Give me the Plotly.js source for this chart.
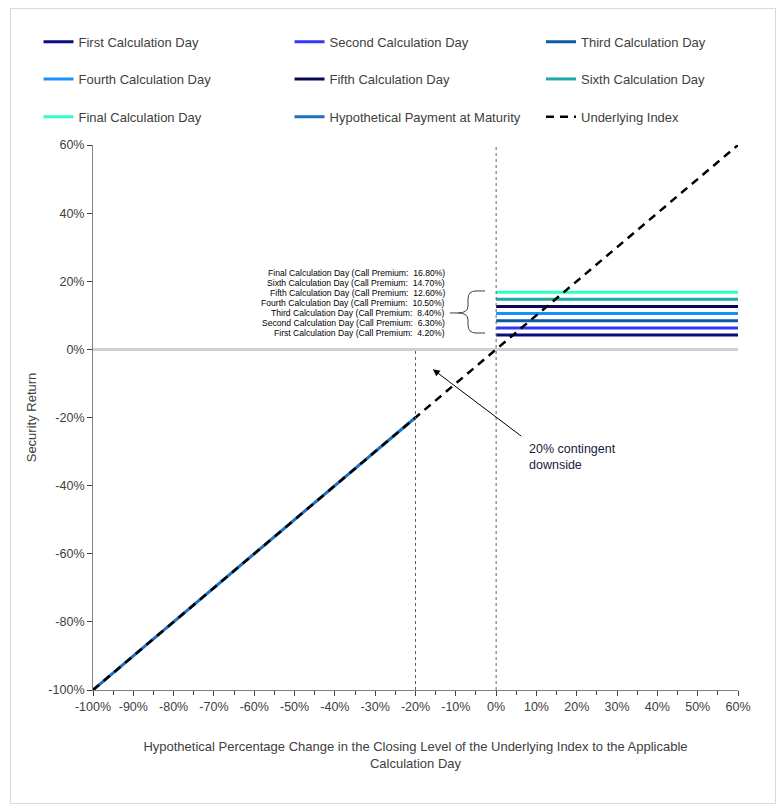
<!DOCTYPE html>
<html>
<head>
<meta charset="utf-8">
<script src="https://cdn.plot.ly/plotly-3.0.1.min.js"></script>
<style>
body { margin: 0; background: #fff; }
#chart { position: absolute; left: 0; top: 0; width: 780px; height: 806px; }
#frame { position: absolute; left: 10px; top: 8px; width: 764px; height: 794px; border: 1px solid #d9d9d9; pointer-events: none; }
</style>
</head>
<body>
<div id="chart"></div>
<div id="frame"></div>
<script>
// calculation days and their call premiums (%)
const dayNames = ["First", "Second", "Third", "Fourth", "Fifth", "Sixth", "Final"];
const callPremiums = [4.2, 6.3, 8.4, 10.5, 12.6, 14.7, 16.8];
const dayColors = ["#0b0b80", "#3535f5", "#0d5aa0", "#1a90ff", "#0a0a50", "#1fa8a8", "#2effc6"];
const premiumX = [0, 60];

// payment below the contingent downside and the underlying index
const paymentX = [-100, -20];
const paymentY = [-100, -20];
const indexX = [-100, 60];
const indexY = [-100, 60];

const barrier = -20;
const xTicks = [-100, -90, -80, -70, -60, -50, -40, -30, -20, -10, 0, 10, 20, 30, 40, 50, 60];
const yTicks = [-100, -80, -60, -40, -20, 0, 20, 40, 60];

const fontFam = "Liberation Sans, Arial, sans-serif";
const grey = "#404040";

function pct(v) { return v + "%"; }
function legendId(n) { return n === 0 ? "legend" : "legend" + (n + 1); }

var traces = [];
for (var i = 0; i < dayNames.length; i++) {
  traces.push({
    x: premiumX,
    y: [callPremiums[i], callPremiums[i]],
    mode: "lines",
    name: dayNames[i] + " Calculation Day",
    line: {color: dayColors[i], width: 3}
  });
}
traces.push({
  x: paymentX, y: paymentY, mode: "lines",
  name: "Hypothetical Payment at Maturity",
  line: {color: "#1f70c0", width: 3}
});
traces.push({
  x: indexX, y: indexY, mode: "lines",
  name: "Underlying Index",
  line: {color: "#000", width: 2.5, dash: "8px,6px"}
});

// bracket labels, one per calculation day, stacked top (final) to bottom (first)
var annotations = [];
var labelTop = 22.3, labelStep = 2.9;
for (var j = dayNames.length - 1, k = 0; j >= 0; j--, k++) {
  annotations.push({
    x: -12.2, y: labelTop - k * labelStep, xref: "x", yref: "y",
    xanchor: "right", yanchor: "middle", showarrow: false,
    text: dayNames[j] + " Calculation Day (Call Premium:  " + callPremiums[j].toFixed(2) + "%)",
    font: {size: 8.6, color: "#000"}
  });
}
annotations.push({x: -15.7, y: -5.85, ax: 6.6, ay: -25.8, xref: "x", yref: "y", axref: "x", ayref: "y",
  text: "", showarrow: true, arrowhead: 2, arrowsize: 1.4, arrowwidth: 1, arrowcolor: "#000"});
annotations.push({x: 7.7, y: -26.6, xref: "x", yref: "y", xanchor: "left", yanchor: "top",
  align: "left", showarrow: false, text: "20% contingent<br>downside",
  font: {size: 12.5, color: "#1a1a40"}});

// curly bracket joining the labels
var bracePath =
  "M -2.75,17.15 L -4.98,17.15 Q -6.97,17.15 -6.97,14.8 L -6.97,12.74 " +
  "Q -6.97,10.69 -9.45,10.69 L -11.44,10.69 M -9.45,10.69 " +
  "Q -6.97,10.69 -6.97,8.63 L -6.97,7.16 Q -6.97,4.81 -4.98,4.81 L -2.75,4.81";

var layout = {
  width: 780, height: 806,
  margin: {l: 93, r: 42, t: 145, b: 116},
  paper_bgcolor: "#fff", plot_bgcolor: "#fff",
  font: {family: fontFam, size: 12.5, color: grey},
  showlegend: true,
  xaxis: {
    range: [-100, 60], tickvals: xTicks, ticktext: xTicks.map(pct),
    showgrid: false, zeroline: false,
    showline: true, linecolor: "#808080", linewidth: 1,
    ticks: "outside", ticklen: 5, tickcolor: "#404040",
    minor: {dtick: 5, tick0: 0, ticks: "outside", ticklen: 4, tickcolor: "#404040"},
    tickfont: {size: 12.5, color: grey},
    title: {
      text: "Hypothetical Percentage Change in the Closing Level of the Underlying Index to the Applicable<br>Calculation Day",
      font: {size: 13, color: grey}, standoff: 28
    }
  },
  yaxis: {
    range: [-100, 60], tickvals: yTicks, ticktext: yTicks.map(pct),
    showgrid: false,
    zeroline: true, zerolinecolor: "#cfcfd6", zerolinewidth: 2.5,
    showline: true, linecolor: "#808080", linewidth: 1,
    ticks: "outside", ticklen: 5, tickcolor: "#404040",
    tickfont: {size: 12.5, color: grey},
    title: {text: "Security Return", font: {size: 13, color: grey}, standoff: 8}
  },
  shapes: [
    {type: "line", xref: "x", yref: "paper", x0: 0, x1: 0, y0: 0, y1: 1,
     line: {color: "#606060", width: 1, dash: "dot"}},
    {type: "line", xref: "x", yref: "y", x0: barrier, x1: barrier, y0: -100, y1: 0,
     line: {color: "#606060", width: 1, dash: "dot"}},
    {type: "path", xref: "x", yref: "y", path: bracePath,
     line: {color: "#404040", width: 1}}
  ],
  annotations: annotations
};

// legend: 3 columns x 3 rows, one legend box per entry
var colX = [-0.0845, 0.3047, 0.6946];
var rowY = [1.1895, 1.1211, 1.0519];
for (var t = 0; t < traces.length; t++) {
  traces[t].legend = legendId(t);
  layout[legendId(t)] = {
    x: colX[t % 3], xanchor: "left", y: rowY[Math.floor(t / 3)], yanchor: "middle",
    font: {family: fontFam, size: 13, color: grey},
    bgcolor: "rgba(0,0,0,0)"
  };
}

Plotly.newPlot("chart", traces, layout, {displayModeBar: false, staticPlot: true});
</script>
</body>
</html>
